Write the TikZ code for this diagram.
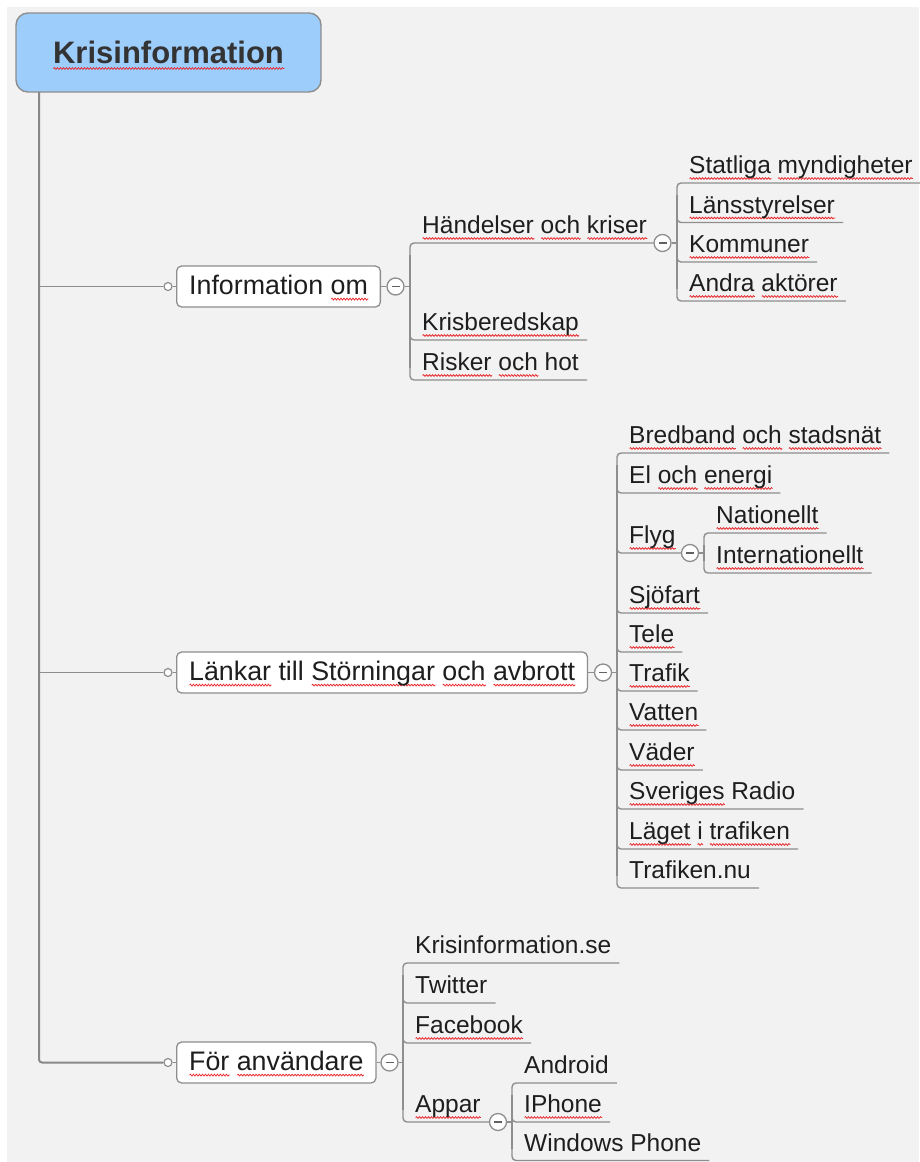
\documentclass[tikz,border=0pt]{standalone}
\usepackage{fontspec}
\setmainfont{Liberation Sans}
\usetikzlibrary{decorations.pathmorphing,calc}
\definecolor{bg}{HTML}{F2F2F2}
\definecolor{lnc}{HTML}{8E8E8E}
\definecolor{trunkc}{HTML}{888888}
\definecolor{rootfill}{HTML}{9DCDFB}
\definecolor{txt}{HTML}{1E1E1E}
\definecolor{roottxt}{HTML}{333333}
\definecolor{sqred}{HTML}{E8262A}

\newlength\sqlen
\newcommand\sq[1]{\leavevmode\settowidth\sqlen{#1}\rlap{\raisebox{-5pt}[0pt][0pt]{\tikz[baseline=0pt,sharp corners]\draw[sqwave](0pt,0pt)--(\sqlen,0pt);}}#1}

\tikzset{
  sqwave/.style={draw=sqred, sharp corners, line width=0.75pt, decorate, decoration={snake, amplitude=0.9pt, segment length=3pt}},
  lnk/.style={draw=lnc, line width=1.4pt},
  trunk/.style={draw=trunkc, line width=2pt},
  rootbox/.style={draw=lnc, fill=rootfill, line width=1.4pt, rounded corners=12pt, minimum width=305pt, minimum height=79pt, inner sep=0pt, text height=22pt, text depth=0pt, font=\fontsize{31pt}{36pt}\selectfont\bfseries, text=roottxt},
  l1box/.style={draw=lnc, fill=white, line width=1.3pt, rounded corners=5pt, minimum height=41pt, inner xsep=12.5pt, inner ysep=0pt, text height=19.2pt, text depth=4pt, font=\fontsize{26.8pt}{30pt}\selectfont, text=txt, anchor=west},
  leaf/.style={inner sep=0pt, font=\fontsize{24.5pt}{28pt}\selectfont, text=txt, anchor=base west},
  dotc/.style={circle, draw=lnc, fill=white, line width=1.2pt, minimum size=8pt, inner sep=0pt},
  fold/.style={circle, draw=lnc, fill=white, line width=1.3pt, minimum size=17pt, inner sep=0pt,
    path picture={\draw[txt!70!white, line width=1.4pt] ([xshift=-4pt]path picture bounding box.center) -- ([xshift=4pt]path picture bounding box.center);}},
}

% leaf: name, bracket x, underline y, text, +12 (top) / -12 (other)
\newcommand\leaf[5]{%
  \node[leaf] (#1) at (#2+12,#3-9.5) {#4};
  \coordinate (#1-y) at (#2,#3);
  \coordinate (#1-s) at (#2,#3#5);
  \draw[lnk,rounded corners=4pt] (#1-s) |- ($(#1.east |- #1-y)+(8,0)$);
}
% branch item ending at a fold circle
\newcommand\branch[6]{%
  \node[leaf] (#1) at (#2+12,#3-9.5) {#4};
  \coordinate (#1-s) at (#2,#3#5);
  \draw[lnk,rounded corners=4pt] (#1-s) |- (#6.west);
}

\begin{document}
\begin{tikzpicture}[x=1pt,y=-1pt]
\useasboundingbox (0,0) rectangle (919,1162);
\fill[white] (0,0) rectangle (919,1162);
\fill[bg] (7,7) rectangle (919,1162);

% root
\node[rootbox] (root) at (168.5,52.5) {\sq{Krisinformation}};
\coordinate (t0) at (39,92);

% level 1
\node[l1box] (info) at (176,286.5) {Information \sq{om}};
\node[l1box] (lank) at (176,672.5) {\sq{Länkar} till \sq{Störningar} \sq{och} \sq{avbrott}};
\node[l1box] (anv) at (176,1062.5) {\sq{För} \sq{användare}};

\node[dotc] (d1) at (168,286.5) {};
\node[dotc] (d2) at (168,672.5) {};
\node[dotc] (d3) at (168,1062.5) {};

\draw[trunk,rounded corners=3pt] (t0) |- (d3.west);
\draw[lnk] (t0 |- d1) -- (d1.west);
\draw[lnk] (t0 |- d2) -- (d2.west);
\draw[lnk] (d1.east) -- (info.west);
\draw[lnk] (d2.east) -- (lank.west);
\draw[lnk] (d3.east) -- (anv.west);

\node[fold] (f1) at (395.5,286.5) {};
\node[fold] (f2) at (603,672.5) {};
\node[fold] (f3) at (389.5,1062.5) {};
\draw[lnk] (info.east) -- (f1.west);
\draw[lnk] (lank.east) -- (f2.west);
\draw[lnk] (anv.east) -- (f3.west);

\node[fold] (f11) at (662.5,243) {};
\node[fold] (f21) at (690,553) {};
\node[fold] (f31) at (498,1122) {};

% group 1
\branch{hand}{410}{243}{\sq{Händelser} \sq{och} \sq{kriser}}{+12}{f11}
\leaf{kris}{410}{340}{\sq{Krisberedskap}}{-12}
\leaf{risk}{410}{380}{\sq{Risker} \sq{och} hot}{-12}
\draw[lnk] (hand-s) -- (risk-s);
\draw[lnk] (f1.east) -- (f1 -| hand-s);

% group 1.1
\leaf{stat}{677}{183}{\sq{Statliga} \sq{myndigheter}}{+12}
\leaf{lans}{677}{222.5}{\sq{Länsstyrelser}}{-12}
\leaf{komm}{677}{262}{\sq{Kommuner}}{-12}
\leaf{aktr}{677}{301}{\sq{Andra} \sq{aktörer}}{-12}
\draw[lnk] (stat-s) -- (aktr-s);
\draw[lnk] (f11.east) -- (f11 -| stat-s);

% group 2
\leaf{bred}{617}{453}{\sq{Bredband} \sq{och} \sq{stadsnät}}{+12}
\leaf{el}{617}{493}{El \sq{och} \sq{energi}}{-12}
\branch{flyg}{617}{553}{\sq{Flyg}}{-12}{f21}
\leaf{sjo}{617}{613}{\sq{Sjöfart}}{-12}
\leaf{tele}{617}{652}{\sq{Tele}}{-12}
\leaf{traf}{617}{691}{\sq{Trafik}}{-12}
\leaf{vatt}{617}{730}{\sq{Vatten}}{-12}
\leaf{vadr}{617}{770}{\sq{Väder}}{-12}
\leaf{sr}{617}{809}{\sq{Sveriges} Radio}{-12}
\leaf{lagt}{617}{849}{\sq{Läget} \sq{i} \sq{trafiken}}{-12}
\leaf{tnu}{617}{888}{Trafiken.nu}{-12}
\draw[lnk] (bred-s) -- (tnu-s);
\draw[lnk] (f2.east) -- (f2 -| bred-s);

% group 2.1
\leaf{nat}{704}{533}{\sq{Nationellt}}{+12}
\leaf{intl}{704}{573}{\sq{Internationellt}}{-12}
\draw[lnk] (nat-s) -- (intl-s);
\draw[lnk] (f21.east) -- (f21 -| nat-s);

% group 3
\leaf{kse}{403}{963}{Krisinformation.se}{+12}
\leaf{tw}{403}{1003}{Twitter}{-12}
\leaf{fb}{403}{1043}{\sq{Facebook}}{-12}
\branch{app}{403}{1122}{\sq{Appar}}{-12}{f31}
\draw[lnk] (kse-s) -- (app-s);
\draw[lnk] (f3.east) -- (f3 -| kse-s);

% group 3.1
\leaf{andd}{512}{1083}{Android}{+12}
\leaf{iph}{512}{1122}{\sq{IPhone}}{-12}
\leaf{wp}{512}{1160.5}{Windows Phone}{-12}
\draw[lnk] (andd-s) -- (wp-s);
\draw[lnk] (f31.east) -- (f31 -| andd-s);
\end{tikzpicture}
\end{document}
